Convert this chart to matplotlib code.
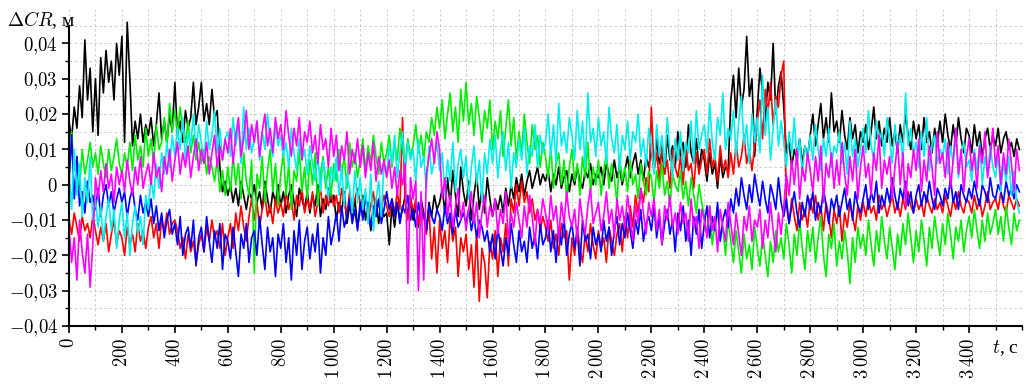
import numpy as np
import matplotlib
matplotlib.use("Agg")
import matplotlib.pyplot as plt
from matplotlib.ticker import MultipleLocator

# отсчёты каждые 10 с, значения в мм
t = np.arange(0, 3600, 10)

black = [18, 13, 22, 16, 28, 19, 41, 24, 33, 15,
         30, 14, 36, 26, 38, 29, 35, 24, 40, 31,
         42, 12, 46, 30, 11, 18, 13, 20, 12, 17,
         14, 19, 11, 17, 26, 13, 18, 12, 20, 15,
         29, 14, 18, 12, 21, 16, 19, 29, 17, 22,
         29, 18, 23, 17, 27, 19, 21, 5, -2, 1,
         -3, 0, -5, -1, -6, 1, -3, -7, -2, -4,
         0, -5, -2, -7, 1, -4, -8, -2, -5, 0,
         -6, -2, -8, -3, 0, -5, -9, -1, -4, -7,
         -2, -8, -3, -6, 0, -9, -4, -7, -1, -5,
         -3, -10, -5, -8, -2, -11, -6, -9, -4, -12,
         -7, -3, -10, -5, -13, -8, -4, -11, -6, -9,
         -8, -17, -6, -12, -5, -10, -7, -3, -9, -5,
         -10, -6, -12, -4, -8, -13, -5, -9, -3, -7,
         -5, -1, -8, 2, -6, 4, -3, -9, 5, -2,
         -6, 1, -10, -3, 3, -7, -1, -8, 2, -4,
         -9, -4, -7, -3, -8, -1, -6, 0, -4, 2,
         -2, 3, -3, 1, 4, -1, 2, 5, 0, 3,
         1, 4, -2, 3, 0, 5, -1, 2, 4, -2,
         3, 0, 5, 1, -1, 4, 2, 6, 0, 3,
         2, 5, 0, 6, 3, 1, 7, 2, 5, 0,
         4, 8, 2, 6, 9, 3, 7, 1, 8, 5,
         10, 4, 13, 6, 9, 3, 14, 7, 11, 5,
         15, 8, 12, 5, 17, 9, 6, 13, 4, 10,
         7, 1, 9, 3, 6, -1, 8, 2, 5, 4,
         24, 31, 19, 33, 22, 27, 42, 25, 30, 8,
         21, 33, 26, 18, 29, 24, 40, 20, 28, 32,
         22, 9, 12, 5, 10, 7, 13, 6, 11, 8,
         14, 20, 11, 17, 23, 13, 19, 12, 26, 15,
         18, 12, 21, 14, 10, 19, 13, 17, 9, 15,
         12, 17, 10, 15, 22, 13, 18, 11, 16, 12,
         19, 11, 15, 9, 17, 12, 20, 14, 10, 18,
         13, 17, 10, 19, 12, 15, 9, 16, 11, 18,
         12, 20, 14, 10, 17, 11, 19, 13, 9, 16,
         14, 9, 17, 11, 15, 8, 13, 16, 10, 14,
         11, 16, 9, 13, 15, 10, 12, 8, 13, 10]

red = [-10, -14, -8, -12, -16, -9, -13, -11, -15, -9,
       -13, -17, -12, -16, -11, -19, -14, -10, -17, -13,
       -15, -20, -12, -17, -14, -19, -11, -16, -13, -18,
       -12, -9, -15, -11, -18, -10, -13, -8, -14, -11,
       -10, -13, -18, -15, -21, -14, -19, -16, -22, -17,
       -14, -19, -12, -16, -10, -15, -13, -18, -11, -20,
       -15, -11, -18, -8, -13, -6, -12, -16, -9, -4,
       -10, -5, -12, -7, -3, -9, -6, -11, -4, -8,
       -5, -9, -2, -7, -4, -10, -3, -6, -1, -8,
       -4, -7, -2, -9, -5, -1, -8, -3, -6, -2,
       -6, -3, -8, -1, -5, -9, -2, -7, -4, -1,
       -5, -8, -3, -10, -6, -2, -9, -4, -7, -3,
       -6, -9, -4, -8, -2, -7, 19, -5, -10, -3,
       -8, -4, -11, -6, -9, -14, -7, -21, -12, -25,
       -10, -18, -13, -22, -9, -16, -12, -26, -15, -19,
       -14, -24, -17, -29, -13, -33, -18, -22, -32, -16,
       -21, -13, -26, -15, -19, -11, -23, -4, -8, 0,
       -6, 1, -5, -2, -8, -4, -10, -7, -13, -9,
       -12, -16, -10, -18, -14, -20, -11, -15, -13, -27,
       -15, -20, -12, -18, -22, -14, -19, -11, -17, -21,
       -13, -18, -15, -22, -12, -16, -20, -14, -11, -19,
       -9, -15, -6, -12, -3, -8, -1, -5, 2, -2,
       22, 4, 9, 1, 12, 3, 7, -1, 10, 5,
       2, 8, 0, 11, 4, 6, -1, 9, 3, 7,
       10, 3, 13, 5, 8, 1, 11, 4, 7, 2,
       9, 3, 12, 5, 8, 14, 6, 10, 4, 11,
       18, 24, 13, 27, 20, 29, 17, 25, 22, 31,
       35, -6, -11, -4, -9, -13, -5, -10, -7, -12,
       -4, -8, -3, -10, -6, -13, -5, -9, -15, -7,
       -11, -6, -16, -8, -12, -5, -9, -13, -6, -10,
       -5, -9, -4, -8, -6, -10, -3, -7, -5, -9,
       -6, -3, -8, -5, -9, -4, -7, -2, -6, -8,
       -4, -7, -5, -9, -3, -6, -8, -4, -7, -5,
       -8, -3, -6, -9, -4, -7, -2, -6, -8, -4,
       -5, -8, -3, -7, -4, -9, -6, -2, -7, -5,
       -4, -7, -2, -6, -8, -3, -5, -7, -4, -6]

green = [2, 15, 4, 8, -1, 10, 3, 7, 12, 5,
         9, 3, 11, 6, 2, 10, 4, 8, 13, 6,
         3, 9, 5, 12, 4, 14, 7, 11, 5, 16,
         8, 13, 6, 17, 10, 12, 19, 11, 23, 15,
         21, 14, 22, 16, 12, 18, 9, 14, 7, 12,
         6, 10, 3, 8, 5, 1, 7, -2, 4, -3,
         5, -2, 8, 0, 6, -4, 9, 1, -3, 7,
         -25, 3, -1, 8, -5, 4, 10, -2, 6, -6,
         3, 9, -3, 6, -7, 4, 1, 10, -2, 5,
         -4, 7, 0, 9, -6, 3, 8, -1, 5, -3,
         6, 1, 10, 3, 8, -1, 12, 5, 9, 2,
         7, 13, 4, 11, 6, 14, 8, 3, 12, 6,
         9, 14, 5, 12, 7, 16, 10, 6, 13, 8,
         11, 17, 9, 14, 7, 15, 12, 19, 14, 22,
         16, 24, 13, 20, 26, 15, 22, 12, 27, 18,
         29, 17, 23, 14, 25, 19, 12, 21, 16, 24,
         10, 18, 13, 21, 8, 16, 24, 11, 19, 7,
         15, 9, 20, 12, 6, 17, 10, 14, 5, 12,
         8, 2, 11, -1, 6, 9, 0, 7, -4, 5,
         10, 1, 6, -3, 8, 2, 12, -2, 5, 0,
         7, -3, 4, 9, -1, 6, 2, -5, 8, 1,
         5, -2, 7, 0, 3, -4, 6, 1, -3, 4,
         2, -5, 4, -1, 6, -3, 1, -6, 3, 0,
         -2, 4, -4, 1, -6, 2, -3, -8, 0, -5,
         -9, -14, -6, -17, -11, -8, -15, -12, -20, -10,
         -16, -22, -13, -19, -25, -14, -21, -17, -24, -12,
         -18, -23, -14, -20, -26, -16, -22, -13, -19, -15,
         -21, -11, -17, -25, -14, -20, -10, -18, -24, -13,
         -19, -12, -22, -15, -9, -20, -26, -14, -18, -11,
         -23, -16, -21, -13, -19, -28, -15, -22, -12, -18,
         -14, -20, -10, -17, -23, -13, -19, -9, -16, -21,
         -12, -18, -24, -14, -20, -11, -17, -8, -15, -22,
         -13, -19, -10, -16, -23, -12, -18, -9, -15, -20,
         -11, -17, -8, -14, -21, -12, -16, -10, -19, -13,
         -9, -15, -7, -13, -18, -10, -16, -8, -14, -11,
         -7, -14, -9, -16, -6, -12, -17, -8, -13, -10]

blue = [0, 14, -4, 8, -6, -2, -8, 1, -5, -3,
        -7, -1, -9, -3, 0, -6, -2, -8, -4, -1,
        -5, -2, -9, -4, -1, -7, -10, -3, -8, -5,
        -9, -4, -11, -6, -13, -8, -15, -10, -7, -14,
        -11, -17, -9, -20, -14, -12, -18, -10, -23, -15,
        -12, -19, -9, -16, -22, -13, -18, -11, -24, -14,
        -16, -21, -12, -19, -26, -14, -18, -11, -22, -15,
        -13, -20, -9, -17, -24, -12, -19, -15, -26, -14,
        -18, -11, -22, -15, -27, -13, -20, -10, -24, -16,
        -12, -21, -14, -19, -11, -25, -15, -20, -9, -17,
        -13, -8, -16, -6, -12, -9, -4, -11, -7, -13,
        -5, -10, -3, -8, -12, -6, -9, -4, -11, -7,
        -2, -7, -4, -9, -5, -11, -6, -8, -3, -10,
        -7, -12, -5, -10, -8, -13, -6, -9, -11, -7,
        -9, -13, -6, -11, -8, -14, -7, -12, -10, -8,
        -11, -7, -13, -9, -15, -10, -12, -16, -13, -19,
        -14, -21, -12, -18, -23, -15, -20, -11, -17, -22,
        -13, -19, -16, -22, -12, -18, -14, -21, -11, -17,
        -15, -10, -19, -13, -22, -12, -17, -9, -20, -14,
        -11, -18, -13, -23, -10, -16, -14, -21, -12, -17,
        -14, -19, -10, -16, -12, -20, -13, -9, -17, -11,
        -15, -8, -13, -18, -10, -14, -7, -16, -11, -9,
        -13, -6, -15, -9, -17, -11, -7, -14, -10, -19,
        -8, -13, -6, -16, -10, -20, -9, -14, -7, -18,
        -11, -6, -15, -9, -13, -5, -16, -10, -7, -12,
        -4, -8, -1, -6, 2, -3, -7, 0, -5, 3,
        -2, -6, 1, -4, -8, 0, -3, -7, 2, -5,
        -9, -4, -11, -6, -2, -8, -12, -5, -9, -3,
        -7, -2, -10, -5, -8, -1, -6, -11, -4, -7,
        -3, -9, -5, -1, -7, -4, -10, -2, -6, -8,
        -4, 0, -7, -2, -5, 1, -8, -3, -6, -1,
        -5, 2, -3, -7, -1, -4, 1, -6, -2, -8,
        -3, 0, -6, -2, -5, 1, -4, -7, -1, -3,
        -6, -1, -4, 2, -5, -2, -7, 0, -3, -5,
        -1, -4, 1, -3, -6, 0, -2, -5, 2, -3,
        -4, 0, -2, -5, 1, -3, -1, -4, 0, -2]

cyan = [4, -7, 10, -3, 6, -9, 2, -5, 8, -10,
        -4, -12, -6, -16, -9, -4, -13, -7, -18, -10,
        -5, -15, -8, -20, -11, -6, -14, -9, -17, -3,
        -7, 2, -4, 6, -1, 9, 3, 12, 5, 14,
        8, 16, 10, 19, 7, 15, 11, 20, 9, 17,
        12, 6, 18, 10, 14, 21, 9, 16, 7, 13,
        15, 8, 19, 11, 17, 6, 22, 10, 16, 9,
        13, 18, 7, 15, 10, 20, 12, 8, 17, 11,
        14, 8, 12, 5, 16, 9, 4, 13, 7, 10,
        3, 11, 6, 1, 9, -2, 7, 2, -4, 5,
        1, 8, -3, 5, -6, 3, -1, -8, 4, -5,
        2, -7, -1, -11, 3, -13, -4, 1, -9, 6,
        3, 11, 6, 14, 2, 9, 15, 4, 12, 7,
        10, 1, 13, 5, 8, -1, 11, 3, 7, 12,
        4, 9, -3, 7, 1, 12, -2, 6, 10, 2,
        8, -4, 5, 11, 0, 7, -5, 9, 3, 13,
        6, 14, 2, 10, 15, 4, 12, -1, 9, 5,
        13, 7, 16, 3, 11, 8, 17, 5, 14, 9,
        12, 20, 8, 17, 6, 23, 11, 15, 9, 19,
        14, 7, 21, 10, 18, 5, 26, 12, 16, 8,
        19, 11, 15, 6, 22, 13, 9, 17, 4, 14,
        10, 18, 7, 15, 12, 20, 8, 13, 5, 16,
        11, 3, 17, 8, 14, 5, 19, 9, 2, 13,
        7, 15, 4, 12, 9, 18, 6, 21, 10, 14,
        17, 9, 23, 12, 7, 19, 14, 26, 10, 16,
        13, 21, 8, 18, 25, 11, 17, 6, 20, 12,
        19, 9, 31, 14, 22, 7, 16, 24, 11, 18,
        12, 5, 15, 9, 19, 6, 13, 3, 11, 8,
        14, 7, 17, 10, 4, 13, 8, 16, 5, 11,
        9, 15, 6, 12, 3, 18, 8, 13, 5, 10,
        16, 9, 21, 11, 7, 18, 12, 15, 8, 19,
        13, 6, 17, 10, 14, 7, 26, 11, 16, 9,
        12, 5, 15, 8, 19, 4, 11, 14, 6, 10,
        8, 13, 3, 11, 6, 15, 2, 9, 12, 5,
        7, 1, 10, 4, 12, 0, 8, 3, 11, 5,
        2, 9, -2, 6, 1, 8, -3, 4, -5, -8]

magenta = [-12, -22, -15, -27, -10, -19, -25, -14, -29, -17,
           2, -4, 4, -2, 6, -1, 3, -5, 5, 0,
           4, -2, 7, 1, -3, 5, 0, 8, -1, 3,
           6, 0, 9, 2, 5, -2, 8, 3, 10, 1,
           7, 12, 3, 9, 5, 11, 2, 8, 13, 4,
           10, 6, 12, 3, 9, 14, 5, 11, 7, 13,
           9, 16, 6, 14, 19, 8, 13, 21, 10, 17,
           12, 18, 8, 15, 20, 11, 16, 9, 19, 13,
           17, 10, 21, 14, 8, 16, 11, 19, 7, 15,
           12, 18, 9, 14, 6, 17, 10, 13, 5, 16,
           8, 14, 4, 11, 7, 15, 3, 10, 6, 13,
           5, 11, 2, 9, 4, 12, 1, 8, 3, 7,
           2, 7, -1, 5, -3, 4, 0, 6, -28, 2,
           -4, 1, -30, -2, -27, 3, 8, 13, 6, 15,
           10, -4, 2, -9, -3, -12, -6, -1, -10, -5,
           -13, -7, -2, -11, -5, -15, -8, -3, -12, -6,
           -9, -4, -14, -7, -11, -2, -16, -8, -12, -5,
           -10, -15, -6, -12, -3, -9, -17, -7, -11, -4,
           -8, -13, -3, -10, -6, -15, -5, -11, -2, -9,
           -12, -7, -16, -4, -10, -14, -6, -1, -11, -8,
           -5, -13, -9, -2, -11, -7, -15, -4, -10, -6,
           -12, -3, -9, -16, -6, -11, -1, -8, -14, -5,
           -9, -4, -13, -7, -17, -6, -10, -3, -12, -8,
           -14, -5, -11, -8, -16, -4, -12, -9, -18, -7,
           -10, -15, -6, -13, -9, -19, -7, -12, -16, -5,
           -11, -17, -8, -14, -20, -9, -13, -6, -16, -10,
           -12, -7, -18, -10, -15, -5, -13, -19, -8, -14,
           -6, 3, -3, 7, 0, 10, -4, 5, 1, 9,
           4, -2, 8, 1, 11, -5, 6, 2, 9, -1,
           7, 0, 12, 3, -3, 8, 1, 10, -4, 5,
           11, 2, 6, -3, 9, 4, 14, -1, 7, 3,
           8, -4, 5, 12, 0, 9, -6, 6, 2, 10,
           4, 13, -2, 7, 1, 11, 5, -3, 15, 6,
           9, 2, 12, -1, 7, 16, 3, 10, -2, 8,
           13, 4, 9, -1, 11, 6, 15, 2, 8, 16,
           5, 11, 0, 9, 3, 13, 6, -2, 10, 4]

series = [(black, "black"), (red, "#ff0000"), (green, "#00ee00"),
          (blue, "#0000ff"), (cyan, "#00eeee"), (magenta, "#ff00ff")]

xticks = list(range(0, 3600, 200))
xlabels = ["0", "200", "400", "600", "800", "1 000", "1 200", "1 400", "1 600",
           "1 800", "2 000", "2 200", "2 400", "2 600", "2 800", "3 000",
           "3 200", "3 400"]
yticks = [-0.04, -0.03, -0.02, -0.01, 0, 0.01, 0.02, 0.03, 0.04]

plt.rcParams['mathtext.fontset'] = 'cm'
plt.rcParams['font.family'] = ['Liberation Serif', 'DejaVu Serif']

fig = plt.figure(figsize=(10.34, 3.84), dpi=100)
ax = fig.add_axes([0.0667, 0.151, 0.9217, 0.826])

for vals, col in series:
    ax.plot(t, np.array(vals) * 0.001, color=col, lw=1.2)

ax.set_xlim(0, 3600)
ax.set_ylim(-0.04, 0.0498)

ax.xaxis.set_minor_locator(MultipleLocator(100))
ax.yaxis.set_minor_locator(MultipleLocator(0.005))
ax.set_xticks(xticks)
ax.set_xticklabels(["$" + s.replace(" ", r"\,") + "$" for s in xlabels],
                   rotation=90, fontsize=13.5)
ax.set_yticks(yticks)
ylab = []
for v in yticks:
    if v == 0:
        ylab.append("$0$")
    else:
        ylab.append("$" + ("%.2f" % v).replace(".", "{,}") + "$")
ax.set_yticklabels(ylab, fontsize=13.5)

ax.grid(which="both", color="#c4c4c4", linestyle=(0, (3, 3)), lw=0.6)
ax.set_axisbelow(True)

for s in ["top", "right"]:
    ax.spines[s].set_visible(False)
ax.spines["left"].set_bounds(-0.04, 0.045)
ax.spines["left"].set_linewidth(1.5)
ax.spines["bottom"].set_linewidth(1.5)
ax.tick_params(which="major", direction="out", length=5, width=1.2, pad=3)
ax.tick_params(which="minor", direction="out", length=3, width=1.0)

ax.text(-0.065, 1.0, r"$\Delta CR$, м", transform=ax.transAxes,
        fontsize=14, ha="left", va="top")
ax.text(3590, -0.0435, r"$t$, с", fontsize=14, ha="right", va="top")

fig.savefig("out.png", dpi=100)
